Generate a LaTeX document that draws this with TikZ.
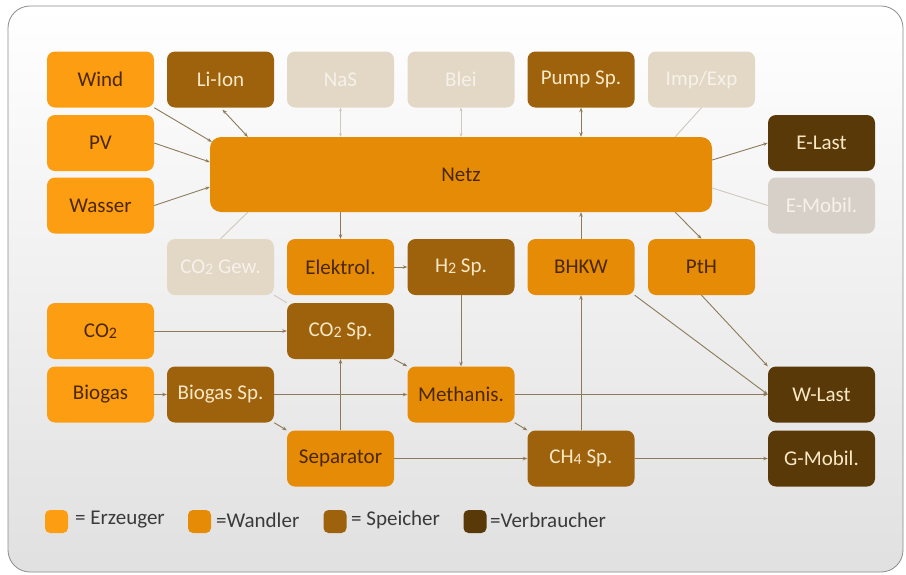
\documentclass[tikz,border=0pt]{standalone}
\usepackage{fontspec}
\setmainfont{Carlito}
\usetikzlibrary{arrows.meta,calc}
\definecolor{erz}{HTML}{FC9D12}
\definecolor{wan}{HTML}{E68B06}
\definecolor{spe}{HTML}{9E620C}
\definecolor{ver}{HTML}{5A3908}
\definecolor{ina}{HTML}{E3D8C6}
\definecolor{inb}{HTML}{D6D0C8}
\definecolor{darktxt}{HTML}{4A2804}
\definecolor{lighttxt}{HTML}{F8E8C6}
\definecolor{inatxt}{HTML}{F6F1EA}
\definecolor{conn}{HTML}{8C7A5A}
\definecolor{connfaint}{HTML}{CFC8BC}
\definecolor{legtxt}{HTML}{3A3A3A}
\newcommand{\lowdig}[1]{\raisebox{-1.2pt}{\fontsize{16}{16}\selectfont #1}}
\tikzset{
  box/.style={rectangle, rounded corners=8pt, minimum width=107pt, minimum height=56pt, inner sep=0pt, font=\fontsize{21}{24}\selectfont},
  erzb/.style={box, fill=erz, text=darktxt},
  wanb/.style={box, fill=wan, text=darktxt},
  speb/.style={box, fill=spe, text=lighttxt},
  verb/.style={box, fill=ver, text=lighttxt},
  inab/.style={box, fill=ina, text=inatxt},
  inbb/.style={box, fill=inb, text=inatxt},
  con/.style={draw=conn, line width=0.9pt, -{Stealth[length=4.5pt,width=3.5pt]}},
  bicon/.style={draw=conn, line width=0.9pt, {Stealth[length=4.5pt,width=3.5pt]}-{Stealth[length=4.5pt,width=3.5pt]}},
  faint/.style={draw=connfaint, line width=0.9pt},
  faintbi/.style={draw=connfaint, line width=0.9pt, {Stealth[length=3.5pt,width=3pt]}-{Stealth[length=3.5pt,width=3pt]}},
  legsq/.style={rectangle, rounded corners=5pt, minimum width=23pt, minimum height=23pt, inner sep=0pt},
  legtext/.style={anchor=west, inner sep=0pt, text=legtxt, font=\fontsize{21}{24}\selectfont}
}
\begin{document}
\begin{tikzpicture}[x=1pt,y=-1pt]
\useasboundingbox (0,0) rectangle (906,574);
\fill[white] (0,0) rectangle (906,574);
\shade[rounded corners=22pt, top color=white, bottom color=black!12] (8,6) rectangle (903,572);
\draw[rounded corners=22pt, draw=black!45, line width=0.8pt] (8,6) rectangle (903,572);

% row 1
\node[erzb] (wind) at (100.5,79.5) {Wind};
\node[speb] (liion) at (220.5,79.5) {Li-Ion};
\node[inab] (nas) at (340.5,79.5) {NaS};
\node[inab] (blei) at (461,79.5) {Blei};
\node[speb] (pump) at (581,79.5) {Pump Sp.};
\node[inab] (imp) at (701.5,79.5) {Imp/Exp};
% rows 2-3
\node[erzb] (pv) at (100.5,143) {PV};
\node[erzb] (wasser) at (100.5,205.5) {Wasser};
\node[wanb, minimum width=502pt, minimum height=75pt, rounded corners=11pt] (netz) at (461,174.5) {Netz};
\node[verb] (elast) at (821.5,143) {E-Last};
\node[inbb] (emob) at (821.5,205.5) {E-Mobil.};
% row 4
\node[inab] (co2gew) at (220.5,267) {CO\lowdig{2} Gew.};
\node[wanb] (elek) at (340.5,267) {Elektrol.};
\node[speb] (h2) at (461,267) {H\lowdig{2} Sp.};
\node[wanb] (bhkw) at (581,267) {BHKW};
\node[wanb] (pth) at (701.5,267) {PtH};
% row 5
\node[erzb] (co2) at (100.5,331) {CO\lowdig{2}};
\node[speb] (co2sp) at (340.5,331) {CO\lowdig{2} Sp.};
% row 6
\node[erzb] (biogas) at (100.5,394.5) {Biogas};
\node[speb] (biosp) at (220.5,394.5) {Biogas Sp.};
\node[wanb] (meth) at (461,394.5) {Methanis.};
\node[verb] (wlast) at (821.5,394.5) {W-Last};
% row 7
\node[wanb] (sep) at (340.5,458.5) {Separator};
\node[speb] (ch4) at (581,458.5) {CH\lowdig{4} Sp.};
\node[verb] (gmob) at (821.5,458.5) {G-Mobil.};

% connectors into/out of Netz
\draw[con] (wind.south east) -- ([shift={(2,5)}]netz.north west);
\draw[con] (pv.east) -- ([shift={(0,-12.5)}]netz.west);
\draw[con] (wasser.east) -- ([shift={(0,12.5)}]netz.west);
\draw[bicon] ([shift={(2,2)}]liion.south) -- ([shift={(38,0)}]netz.north west);
\draw[faintbi] (nas.south) -- (nas.south |- netz.north);
\draw[faintbi] (blei.south) -- (blei.south |- netz.north);
\draw[bicon] (pump.south) -- (pump.south |- netz.north);
\draw[faint] (imp.south) -- ([shift={(-37,0)}]netz.north east);
\draw[con] ([shift={(0,-14.5)}]netz.east) -- (elast.west);
\draw[faint] ([shift={(0,13.5)}]netz.east) -- (emob.west);
\draw[faint] ([shift={(38,0)}]netz.south west) -- (co2gew.north);
\draw[con] (netz.south -| elek.north) -- (elek.north);
\draw[con] (bhkw.north) -- (bhkw.north |- netz.south);
\draw[con] ([shift={(-37,0)}]netz.south east) -- (pth.north);
% lower part
\draw[con] (elek.east) -- (h2.west);
\draw[faint] (co2gew.south east) -- (co2sp.north west);
\draw[con] (co2.east) -- (co2sp.west);
\draw[con] (h2.south) -- (meth.north);
\draw[con] (co2sp.south east) -- (meth.north west);
\draw[con] (biogas.east) -- (biosp.west);
\draw[con] (biosp.east) -- (meth.west);
\draw[con] (biosp.south east) -- (sep.north west);
\draw[con] (sep.north) -- (co2sp.south);
\draw[con] (sep.east) -- (ch4.west);
\draw[con] (meth.south east) -- (ch4.north west);
\draw[con] (meth.east) -- (wlast.west);
\draw[con] (ch4.north) -- (bhkw.south);
\draw[con] (ch4.east) -- (gmob.west);
\draw[con] (bhkw.south east) -- (wlast.west);
\draw[con] (pth.south) -- (wlast.north west);

% legend
\node[legsq, fill=erz] (l1) at (56.5,521.5) {};
\node[legtext] (t1) at (75,520) {= Erzeuger};
\node[legsq, fill=wan] (l2) at (199.5,521.5) {};
\node[legtext] (t2) at (216,520) {=Wandler};
\node[legsq, fill=spe] (l3) at (335,521.5) {};
\node[legtext] (t3) at (351,520) {= Speicher};
\node[legsq, fill=ver] (l4) at (475,521.5) {};
\node[legtext] (t4) at (490,520) {=Verbraucher};
\end{tikzpicture}
\end{document}
